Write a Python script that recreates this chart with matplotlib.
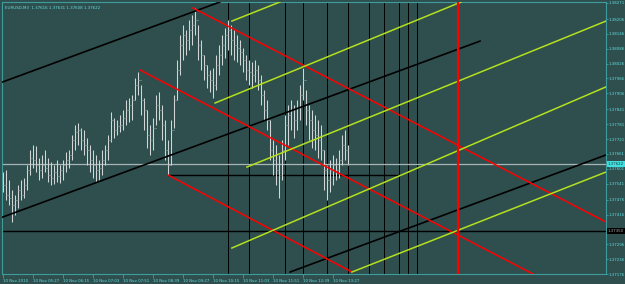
import numpy as np
import matplotlib
matplotlib.use("Agg")
import matplotlib.pyplot as plt
from matplotlib.transforms import blended_transform_factory

# EURUSD M3 bars (high / low / close), one per bar
highs = [1.37588, 1.37596, 1.37556, 1.37515, 1.37495, 1.37536, 1.37556, 1.37564, 1.37616, 1.37677,
         1.37697, 1.37693, 1.37645, 1.37657, 1.37677, 1.37645, 1.37629, 1.37616, 1.37637, 1.37616,
         1.37637, 1.37669, 1.37677, 1.37738, 1.37778, 1.37786, 1.37766, 1.37758, 1.37726, 1.37697,
         1.37677, 1.37657, 1.37637, 1.37677, 1.37697, 1.37738, 1.37831, 1.37806, 1.37798, 1.37818,
         1.37839, 1.37879, 1.37887, 1.37899, 1.37968, 1.37992, 1.37940, 1.37887, 1.37839, 1.37778,
         1.37806, 1.37899, 1.37911, 1.37859, 1.37798, 1.37717, 1.37798, 1.37899, 1.38041, 1.38142,
         1.38182, 1.38162, 1.38202, 1.38222, 1.38251, 1.38182, 1.38121, 1.38061, 1.38020, 1.38000,
         1.38008, 1.38061, 1.38101, 1.38142, 1.38170, 1.38202, 1.38182, 1.38162, 1.38142, 1.38121,
         1.38089, 1.38061, 1.38041, 1.38033, 1.38041, 1.38020, 1.37980, 1.37919, 1.37879, 1.37798,
         1.37717, 1.37697, 1.37657, 1.37717, 1.37818, 1.37859, 1.37879, 1.37859, 1.37879, 1.37940,
         1.38008, 1.37919, 1.37859, 1.37839, 1.37818, 1.37798, 1.37778, 1.37677, 1.37616, 1.37637,
         1.37657, 1.37645, 1.37677, 1.37738, 1.37758, 1.37697]
lows = [1.37507, 1.37475, 1.37455, 1.37386, 1.37414, 1.37443, 1.37475, 1.37483, 1.37515, 1.37576,
        1.37604, 1.37588, 1.37556, 1.37564, 1.37588, 1.37548, 1.37536, 1.37540, 1.37548, 1.37544,
        1.37556, 1.37588, 1.37604, 1.37637, 1.37677, 1.37697, 1.37677, 1.37657, 1.37616, 1.37588,
        1.37564, 1.37548, 1.37556, 1.37576, 1.37616, 1.37637, 1.37709, 1.37726, 1.37738, 1.37750,
        1.37758, 1.37778, 1.37790, 1.37798, 1.37879, 1.37899, 1.37818, 1.37758, 1.37685, 1.37657,
        1.37677, 1.37778, 1.37798, 1.37717, 1.37637, 1.37576, 1.37616, 1.37766, 1.37879, 1.37980,
        1.38041, 1.38061, 1.38081, 1.38101, 1.38142, 1.38041, 1.38000, 1.37960, 1.37927, 1.37911,
        1.37887, 1.37919, 1.37980, 1.38020, 1.38049, 1.38081, 1.38061, 1.38041, 1.38033, 1.38020,
        1.37992, 1.37960, 1.37940, 1.37927, 1.37952, 1.37919, 1.37859, 1.37798, 1.37758, 1.37637,
        1.37576, 1.37536, 1.37483, 1.37556, 1.37637, 1.37697, 1.37758, 1.37726, 1.37758, 1.37798,
        1.37879, 1.37778, 1.37717, 1.37685, 1.37677, 1.37645, 1.37637, 1.37515, 1.37475, 1.37507,
        1.37536, 1.37556, 1.37564, 1.37616, 1.37637, 1.37616]
closes = [1.37536, 1.37495, 1.37483, 1.37455, 1.37475, 1.37515, 1.37495, 1.37536, 1.37596, 1.37645,
          1.37637, 1.37616, 1.37596, 1.37616, 1.37604, 1.37576, 1.37564, 1.37588, 1.37572, 1.37596,
          1.37616, 1.37637, 1.37657, 1.37717, 1.37750, 1.37758, 1.37717, 1.37697, 1.37677, 1.37637,
          1.37616, 1.37596, 1.37604, 1.37637, 1.37677, 1.37717, 1.37798, 1.37758, 1.37774, 1.37778,
          1.37806, 1.37839, 1.37859, 1.37879, 1.37940, 1.37960, 1.37879, 1.37839, 1.37738, 1.37717,
          1.37766, 1.37859, 1.37839, 1.37778, 1.37677, 1.37616, 1.37758, 1.37879, 1.38000, 1.38101,
          1.38142, 1.38121, 1.38162, 1.38182, 1.38202, 1.38101, 1.38061, 1.38020, 1.37980, 1.37960,
          1.37940, 1.38020, 1.38061, 1.38101, 1.38142, 1.38162, 1.38121, 1.38101, 1.38089, 1.38073,
          1.38041, 1.38000, 1.37992, 1.37980, 1.38000, 1.37960, 1.37899, 1.37839, 1.37798, 1.37677,
          1.37637, 1.37596, 1.37576, 1.37677, 1.37778, 1.37818, 1.37839, 1.37798, 1.37847, 1.37899,
          1.37960, 1.37839, 1.37798, 1.37758, 1.37738, 1.37717, 1.37677, 1.37596, 1.37556, 1.37596,
          1.37616, 1.37596, 1.37637, 1.37697, 1.37677, 1.37622]
opens = [1.37560] + closes[:-1]

# drawn objects: (bar, price) anchors
black_lines = [((-1, 1.37402), (159, 1.38117)),
               ((-1, 1.37948), (72.3, 1.38275)),
               ((95.7, 1.37184), (201, 1.37657))]
black_hlines = [1.37350]
black_short = ((55, 1.37576), (132.3, 1.37576))
red_lines = [((63.3, 1.38251), (201, 1.37386)),
             ((45.7, 1.38000), (177.3, 1.37172)),
             ((55, 1.37576), (116.3, 1.37184))]
red_vline = 151.67
yellow_lines = [((76.3, 1.38198), (92.3, 1.38275)),
                ((70.7, 1.37867), (152.7, 1.38275)),
                ((81.3, 1.37608), (201, 1.38198)),
                ((76.3, 1.37281), (201, 1.37932)),
                ((116.3, 1.37184), (201, 1.37588))]
black_vlines = [75, 82, 94, 100, 108, 115, 122, 127, 132, 135, 138]
bid = 1.37622

price_ticks = [1.38271, 1.38206, 1.38146, 1.38086, 1.38026, 1.37966, 1.37906, 1.37841, 1.37781,
               1.37721, 1.37661, 1.37601, 1.37541, 1.37476, 1.37416, 1.37296, 1.37236, 1.37176]
time_labels = ["10 Nov 2010", "10 Nov 05:27", "10 Nov 06:15", "10 Nov 07:03", "10 Nov 07:51",
               "10 Nov 08:39", "10 Nov 09:27", "10 Nov 10:15", "10 Nov 11:03", "10 Nov 11:51",
               "10 Nov 12:39", "10 Nov 13:27"]
title = "EURUSD,M3  1.37616 1.37631 1.37608 1.37622"

bg = "#2f4f4f"
fg = "#62dede"
axc = "#3f9c9c"
yel = "#b4e01e"
fs = 2.8

fig = plt.figure(figsize=(6.25, 2.84), dpi=100, facecolor=bg)
ax = fig.add_axes([2 / 625, 10 / 284, 604 / 625, 272 / 284], facecolor=bg)
ax.set_xlim(-1 / 3, 201)
ax.set_ylim(1.37176, 1.38275)

# vertical black lines behind everything
for v in black_vlines:
    ax.axvline(v, color="black", lw=0.7, zorder=1)

x = np.arange(len(highs))
ax.vlines(x, lows, highs, color="#d2d6d6", lw=0.75, zorder=3)
ax.hlines(opens, x - 0.45, x, color="#9aa6a6", lw=0.75, zorder=3)
ax.hlines(closes, x, x + 0.45, color="#9aa6a6", lw=0.75, zorder=3)

ax.axhline(bid, color="#a9b4b4", lw=0.9, zorder=2)
for h in black_hlines:
    ax.axhline(h, color="black", lw=1.0, zorder=2)
ax.plot([black_short[0][0], black_short[1][0]], [black_short[0][1], black_short[1][1]],
        color="black", lw=1.0, zorder=2)

for (a, b) in black_lines:
    ax.plot([a[0], b[0]], [a[1], b[1]], color="black", lw=1.2, zorder=4)
for (a, b) in red_lines:
    ax.plot([a[0], b[0]], [a[1], b[1]], color="red", lw=1.1, zorder=4)
for (a, b) in yellow_lines:
    ax.plot([a[0], b[0]], [a[1], b[1]], color=yel, lw=1.1, zorder=4)
ax.axvline(red_vline, color="red", lw=1.6, zorder=4)

for s in ax.spines.values():
    s.set_color(axc)
    s.set_linewidth(0.8)

ax.yaxis.tick_right()
ax.set_yticks(price_ticks)
ax.set_yticklabels(["%.5f" % p for p in price_ticks])
ax.tick_params(axis="y", colors=axc, labelcolor=fg, labelsize=fs, length=1.5, width=0.6, pad=0.5)

ax.set_xticks(np.arange(len(time_labels)) * 10)
ax.set_xticklabels(time_labels)
ax.tick_params(axis="x", colors=axc, labelcolor=fg, labelsize=fs, length=3, width=0.6, pad=0.5)
for lab in ax.get_xticklabels():
    lab.set_horizontalalignment("left")

tr = blended_transform_factory(ax.transAxes, ax.transData)
ax.text(1.0025, bid, "%.5f" % bid, transform=tr, fontsize=fs, color="#1a3a3a", va="center",
        ha="left", bbox=dict(boxstyle="square,pad=0.25", fc="#40e0e0", ec="none"), clip_on=False)
ax.text(1.0025, black_hlines[0], "%.5f" % black_hlines[0], transform=tr, fontsize=fs,
        color="#b0b0b0", va="center", ha="left",
        bbox=dict(boxstyle="square,pad=0.25", fc="black", ec="none"), clip_on=False)

ax.text(0.005, 0.985, title, transform=ax.transAxes, fontsize=2.9, color=fg, va="top", ha="left")

fig.savefig("out.png", dpi=100, facecolor=bg)
